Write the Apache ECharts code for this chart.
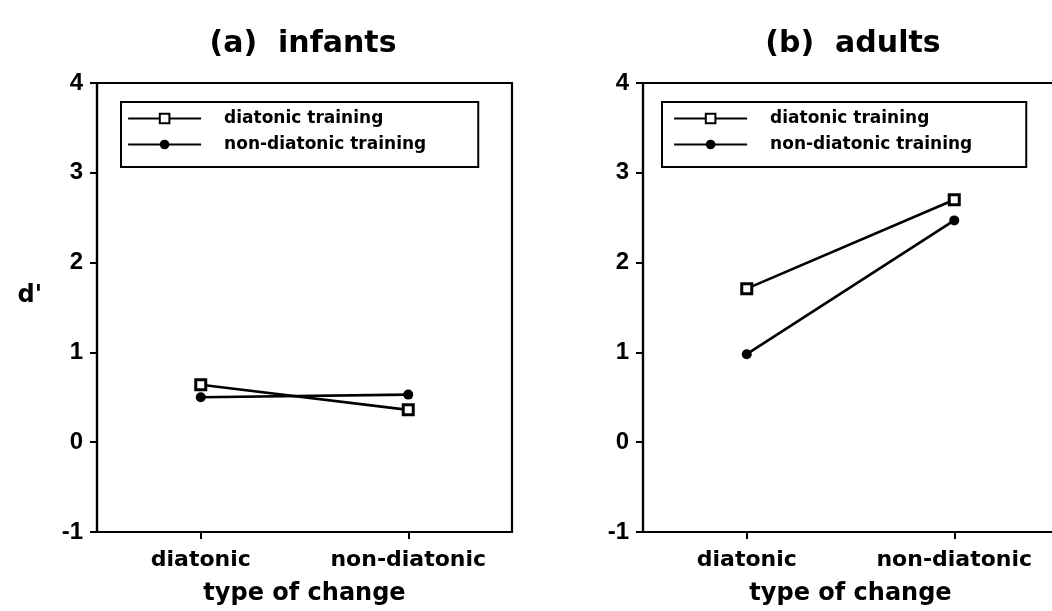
<!DOCTYPE html>
<html>
<head>
<meta charset="utf-8">
<script src="https://cdn.jsdelivr.net/npm/echarts@6/dist/echarts.min.js"></script>
<style>
html,body{margin:0;padding:0;background:#fff;overflow:hidden;width:1052px;height:611px;}
#chart{width:1064px;height:611px;}
</style>
</head>
<body>
<div id="chart"></div>
<script>
// ---- data ----
var categories = ['diatonic', 'non-diatonic'];
var panelTitles = ['(a)  infants', '(b)  adults'];
var seriesNames = ['diatonic training', 'non-diatonic training'];
var infantsDiatonicTraining = [0.64, 0.36];
var infantsNonDiatonicTraining = [0.50, 0.53];
var adultsDiatonicTraining = [1.71, 2.70];
var adultsNonDiatonicTraining = [0.98, 2.47];
var yMin = -1, yMax = 4, yStep = 1;

var FONT = 'DejaVu Sans';
var NUMFONT = 'Liberation Sans';

var chart = echarts.init(document.getElementById('chart'), null, {renderer: 'canvas'});

function makeX(idx) {
  return {
    type: 'category', gridIndex: idx, data: categories, boundaryGap: true,
    axisLine: {show: true, onZero: false, lineStyle: {color: '#000', width: 2.2}},
    axisTick: {show: true, alignWithLabel: true, length: 7, lineStyle: {color: '#000', width: 2}},
    axisLabel: {color: '#000', fontFamily: FONT, fontWeight: 'bold', fontSize: 22, margin: 17},
    name: 'type of change', nameLocation: 'middle', nameGap: 50,
    nameTextStyle: {color: '#000', fontFamily: FONT, fontWeight: 'bold', fontSize: 24},
    splitLine: {show: false}
  };
}
function makeY(idx, name) {
  var o = {
    type: 'value', gridIndex: idx, min: yMin, max: yMax, interval: yStep,
    axisLine: {show: true, onZero: false, lineStyle: {color: '#000', width: 2.2}},
    axisTick: {show: true, length: 7, lineStyle: {color: '#000', width: 2}},
    axisLabel: {color: '#000', fontFamily: NUMFONT, fontWeight: 'bold', fontSize: 24, margin: 14},
    splitLine: {show: false}
  };
  if (name) {
    o.name = name; o.nameLocation = 'middle'; o.nameRotate = 0; o.nameGap = 55;
    o.nameTextStyle = {color: '#000', fontFamily: FONT, fontWeight: 'bold', fontSize: 24, verticalAlign: 'bottom'};
  }
  return o;
}
function makeSeries(name, data, idx) {
  var square = name === seriesNames[0];
  return {
    name: name, type: 'line', xAxisIndex: idx, yAxisIndex: idx, data: data,
    symbol: square ? 'rect' : 'circle', symbolSize: 10,
    lineStyle: {color: '#000', width: 2.6},
    itemStyle: square ? {color: '#fff', borderColor: '#000', borderWidth: 3} : {color: '#000', borderColor: '#000', borderWidth: 0},
    emphasis: {disabled: true}, animation: false, z: square ? 3 : 2
  };
}
function makeLegend(left, padL, padR) {
  return {
    orient: 'vertical', left: left, top: 102, data: seriesNames,
    itemWidth: 73, itemHeight: 12, itemGap: 9,
    padding: [8, padR, 14, padL],
    borderColor: '#000', borderWidth: 2,
    selectedMode: false,
    lineStyle: {width: 2.2},
    textStyle: {color: '#000', fontFamily: FONT, fontWeight: 'bold', fontSize: 17, padding: [0, 0, 0, 18]}
  };
}

var option = {
  backgroundColor: '#fff',
  animation: false,
  title: [
    {text: panelTitles[0], left: 298, top: 24, textAlign: 'center',
     textStyle: {color: '#000', fontFamily: FONT, fontWeight: 'bold', fontSize: 30}},
    {text: panelTitles[1], left: 848, top: 24, textAlign: 'center',
     textStyle: {color: '#000', fontFamily: FONT, fontWeight: 'bold', fontSize: 30}}
  ],
  legend: [makeLegend(121, 6, 52), makeLegend(662, 11, 54)],
  grid: [
    {left: 97, top: 83, width: 415, height: 449, show: true, borderColor: '#000', borderWidth: 2.2, backgroundColor: 'transparent'},
    {left: 643, top: 83, width: 415, height: 449, show: true, borderColor: '#000', borderWidth: 2.2, backgroundColor: 'transparent'}
  ],
  xAxis: [makeX(0), makeX(1)],
  yAxis: [makeY(0, "d'"), makeY(1, null)],
  series: [
    makeSeries(seriesNames[0], infantsDiatonicTraining, 0),
    makeSeries(seriesNames[1], infantsNonDiatonicTraining, 0),
    makeSeries(seriesNames[0], adultsDiatonicTraining, 1),
    makeSeries(seriesNames[1], adultsNonDiatonicTraining, 1)
  ]
};
chart.setOption(option);
</script>
</body>
</html>
